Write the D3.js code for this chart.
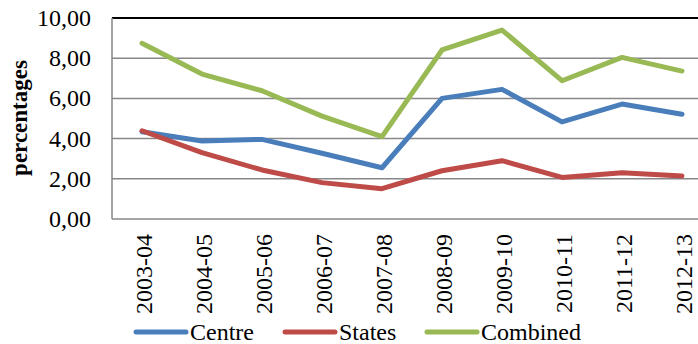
<!DOCTYPE html>
<html>
<head>
<meta charset="utf-8">
<script src="https://cdn.jsdelivr.net/npm/d3@7"></script>
<style>
  body { margin: 0; background: #fff; }
</style>
</head>
<body>
<div id="chart"></div>
<script>
var years = ['2003-04','2004-05','2005-06','2006-07','2007-08','2008-09','2009-10','2010-11','2011-12','2012-13'];
var centre = [4.34, 3.88, 3.96, 3.27, 2.55, 6.00, 6.45, 4.83, 5.72, 5.21];
var states = [4.39, 3.30, 2.44, 1.81, 1.51, 2.40, 2.90, 2.07, 2.30, 2.14];
var combined = [8.74, 7.21, 6.38, 5.12, 4.10, 8.41, 9.40, 6.88, 8.04, 7.36];
var yTicks = [0, 2, 4, 6, 8, 10];
var seriesNames = ['Centre', 'States', 'Combined'];
var colors = ['#4a7ebb', '#be4b48', '#98b954'];

var width = 698, height = 344;
var plotL = 112, plotT = 18, plotB = 219, plotR = 712;
var font = 'Liberation Serif';

var svg = d3.select('#chart')
    .append('svg')
    .attr('width', width)
    .attr('height', height);

var xS = d3.scaleBand()
    .domain(years)
    .range([plotL, plotR]);
var yS = d3.scaleLinear()
    .domain([0, 10])
    .range([plotB, plotT]);

// gridlines
svg.selectAll('.grid')
    .data(yTicks)
    .enter()
    .append('line')
    .attr('x1', plotL)
    .attr('x2', width)
    .attr('y1', function (d) { return yS(d) })
    .attr('y2', function (d) { return yS(d) })
    .attr('stroke', function (d) { return d == 10 ? '#000' : '#878787' })
    .attr('stroke-width', function (d) { return d == 10 ? 2 : 1.5 });

svg.append('line')
    .attr('x1', plotL).attr('x2', plotL)
    .attr('y1', plotT).attr('y2', plotB)
    .attr('stroke', '#878787')
    .attr('stroke-width', 1.5);

// y tick labels
svg.selectAll('.ylab')
    .data(yTicks)
    .enter()
    .append('text')
    .attr('x', 91)
    .attr('y', function (d) { return yS(d) + 8 })
    .attr('text-anchor', 'end')
    .style('font-family', font)
    .style('font-size', '24px')
    .text(function (d) { return d3.format('.2f')(d).replace('.', ',') });

svg.append('text')
    .attr('transform', 'translate(27,118) rotate(-90)')
    .attr('text-anchor', 'middle')
    .style('font-family', font)
    .style('font-size', '23px')
    .style('font-weight', 'bold')
    .text('percentages');

// x tick labels
svg.selectAll('.xlab')
    .data(years)
    .enter()
    .append('text')
    .attr('transform', function (d) {
        return 'translate(' + (xS(d) + xS.bandwidth() / 2 + 10) + ',234) rotate(-90)';
    })
    .attr('text-anchor', 'end')
    .style('font-family', font)
    .style('font-size', '24px')
    .text(function (d) { return d });

// lines
var line = d3.line()
    .x(function (d, i) { return xS(years[i]) + xS.bandwidth() / 2 })
    .y(function (d) { return yS(d) });

[centre, states, combined].forEach(function (s, k) {
    svg.append('path')
        .datum(s)
        .attr('d', line)
        .attr('fill', 'none')
        .attr('stroke', colors[k])
        .attr('stroke-width', 5)
        .attr('stroke-linejoin', 'round')
        .attr('stroke-linecap', 'round');
});

// legend
var legX = [134, 283, 425];
seriesNames.forEach(function (n, k) {
    svg.append('line')
        .attr('x1', legX[k] + 2).attr('x2', legX[k] + 52)
        .attr('y1', 332).attr('y2', 332)
        .attr('stroke', colors[k])
        .attr('stroke-width', 5)
        .attr('stroke-linecap', 'round');
    svg.append('text')
        .attr('x', legX[k] + 56)
        .attr('y', 340)
        .style('font-family', font)
        .style('font-size', '24px')
        .text(n);
});
</script>
</body>
</html>
